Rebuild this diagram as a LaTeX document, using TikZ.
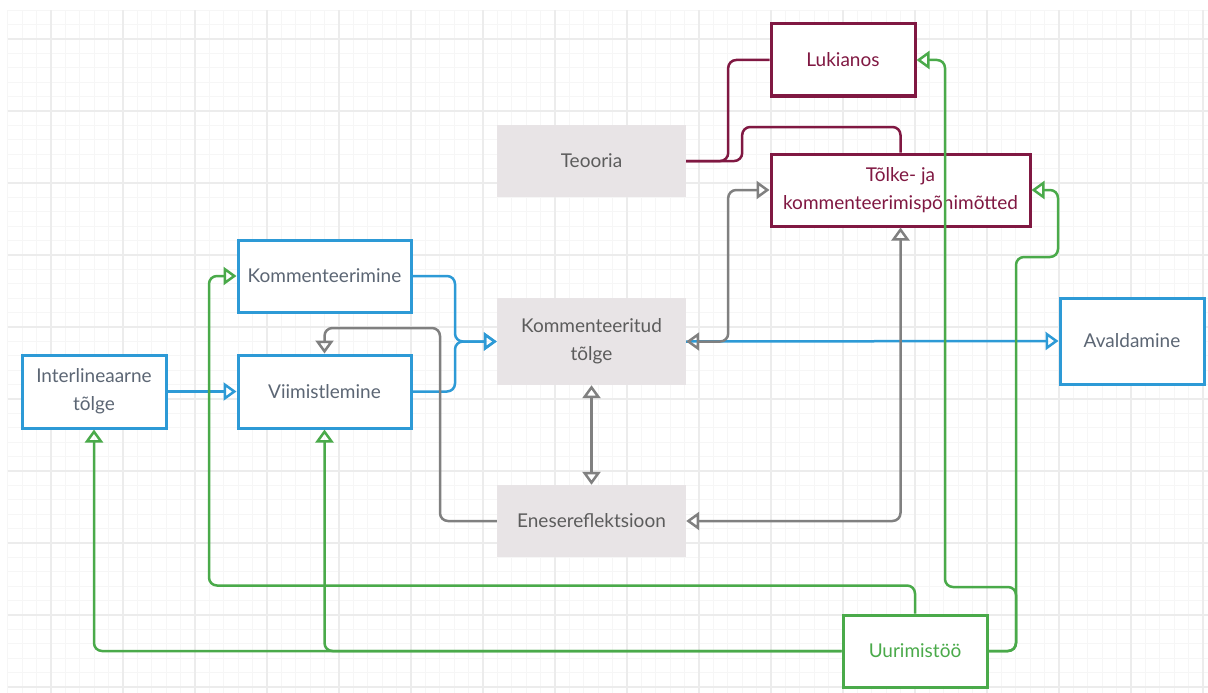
\documentclass[tikz,border=0pt]{standalone}
\usepackage{fontspec}
\setmainfont{Lato}
\usetikzlibrary{arrows.meta}
\definecolor{cblue}{RGB}{45,154,214}
\definecolor{cgreen}{RGB}{74,170,74}
\definecolor{cred}{RGB}{128,24,66}
\definecolor{cgray}{RGB}{128,128,128}
\definecolor{cfill}{RGB}{232,228,230}
\definecolor{ctext}{RGB}{92,102,116}
\definecolor{cgtext}{RGB}{92,92,92}
\definecolor{gminor}{RGB}{246,246,246}
\definecolor{gmajor}{RGB}{236,236,236}
\begin{document}
\begin{tikzpicture}[x=1pt,y=-1pt,
  box/.style={inner sep=0pt, align=center, font=\fontsize{19}{28}\selectfont},
  bluebox/.style={box, draw=cblue, line width=3pt, fill=white, text=ctext},
  redbox/.style={box, draw=cred, line width=3pt, fill=white, text=cred},
  greenbox/.style={box, draw=cgreen, line width=3pt, fill=white, text=cgreen},
  graybox/.style={box, fill=cfill, text=cgtext},
  tip/.style={-{Triangle[open, length=13pt, width=18pt, line width=2.5pt]}},
  dbl/.style={{Triangle[open, length=13pt, width=18pt, line width=2.5pt]}-{Triangle[open, length=13pt, width=18pt, line width=2.5pt]}},
  conn/.style={line width=2.5pt, rounded corners=8pt},
  redline/.style={conn, draw=cred},
  grayline/.style={conn, draw=cgray},
  blueline/.style={conn, draw=cblue},
  greenline/.style={conn, draw=cgreen}]
\useasboundingbox (0,0) rectangle (1208,693);
\fill[white] (0,0) rectangle (1208,693);
% grid
\foreach \i in {0,...,83} \draw[gminor, line width=1pt] (7.8+\i*14.4,10.2) -- (7.8+\i*14.4,693);
\foreach \j in {0,...,47} \draw[gminor, line width=1pt] (7.8,10.2+\j*14.4) -- (1208,10.2+\j*14.4);
\foreach \i in {0,...,16} \draw[gmajor, line width=1.3pt] (51+\i*72,10.2) -- (51+\i*72,693);
\foreach \j in {0,...,9} \draw[gmajor, line width=1.3pt] (7.8,39+\j*72) -- (1208,39+\j*72);

% nodes
\node[redbox, minimum width=144pt, minimum height=72pt] (luk) at (843,60) {Lukianos};
\node[graybox, minimum width=189pt, minimum height=72pt] (teo) at (591.5,161) {Teooria};
\node[redbox, minimum width=259pt, minimum height=72pt] (tol) at (900.5,190) {Tõlke- ja\\kommenteerimispõhimõtted};
\node[bluebox, minimum width=173pt, minimum height=72pt] (kom) at (324.5,276) {Kommenteerimine};
\node[bluebox, minimum width=173pt, minimum height=73pt] (vii) at (324.5,391.5) {Viimistlemine};
\node[bluebox, minimum width=144pt, minimum height=73pt] (int) at (94,391.5) {Interlineaarne\\tõlge};
\node[graybox, minimum width=189pt, minimum height=87pt] (kt) at (591.5,341.5) {Kommenteeritud\\tõlge};
\node[bluebox, minimum width=144pt, minimum height=86pt] (ava) at (1132,341) {Avaldamine};
\node[graybox, minimum width=189pt, minimum height=72pt] (ene) at (591.5,521) {Enesereflektsioon};
\node[greenbox, minimum width=144pt, minimum height=72pt] (uur) at (915,651) {Uurimistöö};

% red connectors
\draw[redline] (teo.east) -- ++(42,0) |- (luk.west);
\draw[redline] (teo.east) -- ++(56,0) -- ++(0,-34) -| (tol.north);

% blue connectors
\draw[blueline, tip] (kt.east) -- (ava.west);
\draw[blueline, tip] (kom.east) -- (455,276) |- (kt.west);
\draw[blueline, tip] (vii.east) -- (455,391.5) |- (kt.west);
\draw[blueline, tip] (int.east) -- (vii.west);

% gray connectors
\draw[grayline, dbl] (kt.east) -- ++(42,0) |- (tol.west);
\draw[grayline, dbl] (kt.south) -- (ene.north);
\draw[grayline, dbl] (ene.east) -| (tol.south);
\draw[grayline, tip] (ene.west) -- (440,521) -- (440,328) -| (vii.north);

% green connectors
\draw[greenline, tip] (uur.west) -| (int.south);
\draw[greenline, tip] (uur.west) -| (vii.south);
\draw[greenline, tip] (uur.north) -- ++(0,-28) -| (209,276) -- (kom.west);
\draw[greenline, tip] (uur.east) -- (1016,651) -- (1016,587) -- (945,587) |- (luk.east);
\draw[greenline, tip] (uur.east) -- (1016,651) -- (1016,257) -- (1058,257) |- (tol.east);
\end{tikzpicture}
\end{document}
